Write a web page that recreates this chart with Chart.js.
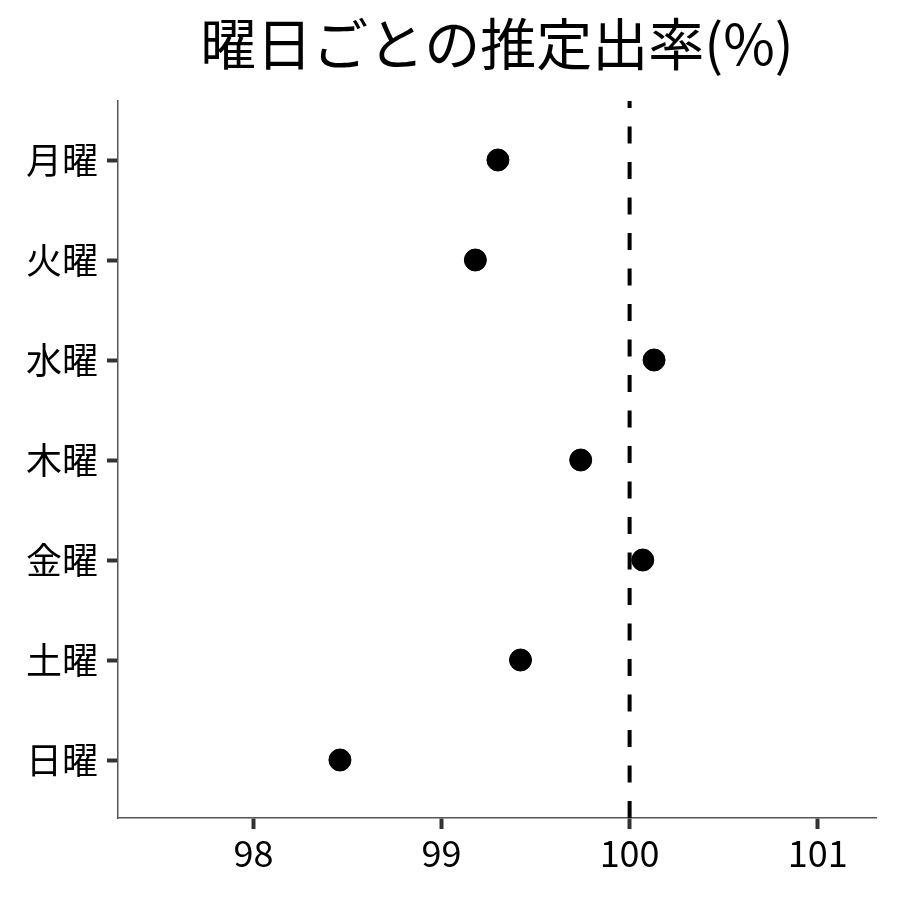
<!DOCTYPE html>
<html>
<head>
<meta charset="utf-8">
<script src="https://cdn.jsdelivr.net/npm/chart.js@4/dist/chart.umd.min.js"></script>
<style>
  html, body { margin: 0; padding: 0; background: #fff; }
  #wrap { width: 900px; height: 900px; }
</style>
</head>
<body>
<div id="wrap"><canvas id="dotChart" width="900" height="900"></canvas></div>
<script>
// categories (top to bottom) and estimated values
var days = ['月曜', '火曜', '水曜', '木曜', '金曜', '土曜', '日曜'];
var rates = [99.30, 99.18, 100.13, 99.74, 100.07, 99.42, 98.46];
var xTicks = [98, 99, 100, 101];
var refValue = 100;
var titleText = '曜日ごとの推定出率(%)';

var xMin = 97.28, xMax = 101.31;
var yMin = -0.59, yMax = 6.58;

var FONT = '"Noto Sans CJK JP", "Noto Sans", sans-serif';

var points = days.map(function (d, i) { return { x: rates[i], y: i }; });

// title centred over the plot area
var titlePlugin = {
    id: 'plotTitle',
    afterDraw: function (chart) {
        var c = chart.ctx, a = chart.chartArea;
        c.save();
        c.font = '56px ' + FONT;
        c.fillStyle = '#000';
        c.textAlign = 'center';
        c.textBaseline = 'middle';
        c.fillText(titleText, (a.left + a.right) / 2, 44);
        c.restore();
    }
};

var ctx = document.getElementById('dotChart').getContext('2d');
var chart = new Chart(ctx, {
    type: 'scatter',
    data: {
        datasets: [{
            label: 'ref',
            type: 'line',
            data: [{ x: refValue, y: yMax }, { x: refValue, y: yMin }],
            borderColor: '#000',
            borderWidth: 4,
            borderDash: [17, 18.5],
            pointRadius: 0,
            fill: false
        }, {
            label: 'rate',
            data: points,
            backgroundColor: '#000',
            borderColor: '#000',
            pointRadius: 11,
            pointHoverRadius: 11
        }]
    },
    options: {
        responsive: false,
        animation: false,
        devicePixelRatio: 1,
        layout: { padding: { top: 101, right: 24, left: 0, bottom: 0 } },
        plugins: { legend: { display: false }, tooltip: { enabled: false } },
        scales: {
            x: {
                type: 'linear',
                min: xMin,
                max: xMax,
                afterBuildTicks: function (s) { s.ticks = xTicks.map(function (v) { return { value: v }; }); },
                afterFit: function (s) { s.height = 82; },
                grid: { drawOnChartArea: false, tickLength: 11, tickWidth: 4, tickColor: '#333' },
                border: { color: '#555', width: 1.5 },
                ticks: { color: '#000', font: { family: FONT, size: 36 }, padding: 3, maxRotation: 0 }
            },
            y: {
                type: 'linear',
                reverse: true,
                min: yMin,
                max: yMax,
                afterBuildTicks: function (s) { s.ticks = days.map(function (d, i) { return { value: i }; }); },
                afterFit: function (s) { s.width = 118; },
                grid: { drawOnChartArea: false, tickLength: 11, tickWidth: 4, tickColor: '#333' },
                border: { color: '#555', width: 1.5 },
                ticks: {
                    color: '#000',
                    font: { family: FONT, size: 36 },
                    padding: 9,
                    callback: function (v) { return days[v]; }
                }
            }
        }
    },
    plugins: [titlePlugin]
});
</script>
</body>
</html>
